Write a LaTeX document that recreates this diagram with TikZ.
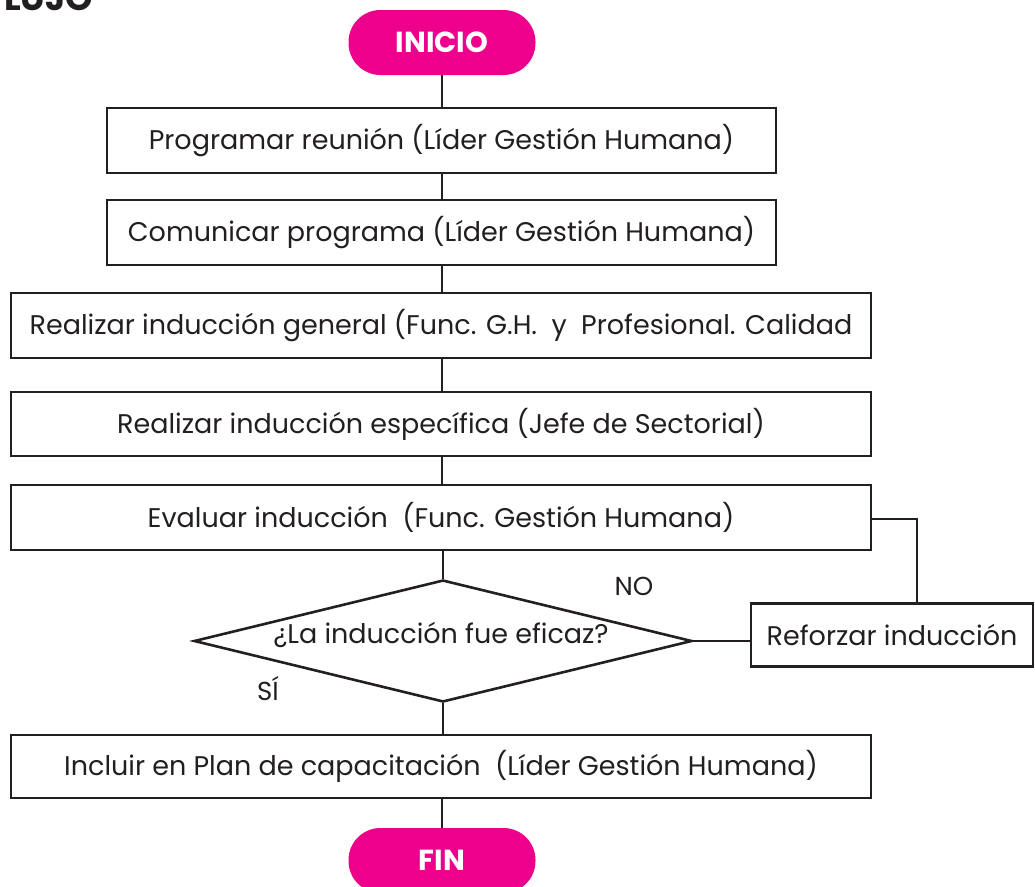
\documentclass[tikz,border=0pt]{standalone}
\usepackage{fontspec}
\setmainfont{Poppins}
\usetikzlibrary{shapes.geometric}
\definecolor{ink}{HTML}{231F20}
\definecolor{magenta}{HTML}{EC008C}
\begin{document}
\begin{tikzpicture}[x=1pt,y=-1pt,
  every node/.style={text=ink},
  stepbox/.style={draw=ink,line width=2.6pt,fill=white,inner sep=0pt,
    font=\fontsize{27}{31}\selectfont},
  pill/.style={fill=magenta,rounded corners=32pt,inner sep=0pt,
    minimum width=187pt,minimum height=65pt,text=white,
    font=\fontsize{29}{33}\selectfont\bfseries},
  decision/.style={draw=ink,line width=2.6pt,fill=white,diamond,aspect=4.1,inner sep=0pt},
  question/.style={font=\fontsize{27}{31}\selectfont},
  tag/.style={font=\fontsize{26}{30}\selectfont},
  link/.style={draw=ink,line width=2.6pt}]
\useasboundingbox (0,0) rectangle (1035,886);

% heading, cut by the top edge of the page
\node[anchor=base west,inner sep=0pt,font=\fontsize{35}{40}\selectfont\bfseries] (title) at (4,10) {LUJO};

% start / end terminals
\node[pill] (inicio) at (442,42.5) {INICIO};
\node[pill] (fin) at (442,860.5) {FIN};

% process steps
\node[stepbox,minimum width=669pt,minimum height=65pt] (b1) at (441.5,140.5) {Programar reunión (Líder Gestión Humana)};
\node[stepbox,minimum width=669pt,minimum height=65pt] (b2) at (441.5,232.5) {Comunicar programa (Líder Gestión Humana)};
\node[stepbox,minimum width=860pt,minimum height=65pt] (b3) at (441,325.5) {Realizar inducción general (Func. G.H.~ y~ Profesional. Calidad};
\node[stepbox,minimum width=860pt,minimum height=64pt] (b4) at (441,424) {Realizar inducción específica (Jefe de Sectorial)};
\node[stepbox,minimum width=860pt,minimum height=65pt] (b5) at (441,517.5) {Evaluar inducción ~(Func. Gestión Humana)};

% decision: outline plus its question, set a little above the centre
\node[decision,minimum width=498pt,minimum height=122pt] (dec) at (443,641) {};
\node[question] (q) at (441,635) {¿La inducción fue eficaz?};

\node[stepbox,minimum width=282pt,minimum height=63pt] (ref) at (892,635) {Reforzar inducción};
\node[stepbox,minimum width=860pt,minimum height=63pt] (b6) at (441,766.5) {Incluir en Plan de capacitación ~(Líder Gestión Humana)};

% branch labels
\node[tag] (no) at (634,586) {NO};
\node[tag] (si) at (268,689) {SÍ};

% main flow
\draw[link] (inicio.south) -- (b1.north -| inicio.south);
\draw[link] (b1.south -| inicio.south) -- (b2.north -| inicio.south);
\draw[link] (b2.south -| inicio.south) -- (b3.north -| inicio.south);
\draw[link] (b3.south -| inicio.south) -- (b4.north -| inicio.south);
\draw[link] (b4.south -| inicio.south) -- (b5.north -| inicio.south);
\draw[link] (b5.south -| dec.north) -- (dec.north);
\draw[link] (dec.south) -- (b6.north -| dec.south);
\draw[link] (b6.south -| fin.north) -- (fin.north);

% rejection loop
\coordinate (loop) at (917,519);
\draw[link] (dec.east) -- (dec.east -| ref.west);
\draw[link] (b5.east |- loop) -- (loop) -- (loop |- ref.north);
\end{tikzpicture}
\end{document}
